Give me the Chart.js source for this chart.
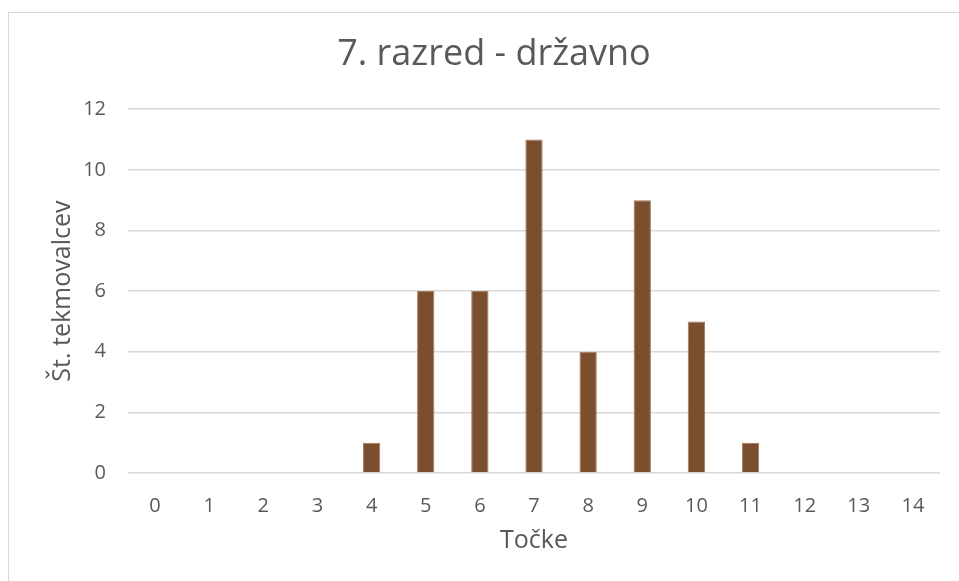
<!DOCTYPE html>
<html>
<head>
<meta charset="utf-8">
<script src="https://cdn.jsdelivr.net/npm/chart.js@4"></script>
<style>
  body { margin: 0; background: #fff; }
  #frame { position: absolute; left: 8px; top: 12px; width: 1000px; height: 700px; border: 1px solid #d9d9d9; box-sizing: border-box; }
  #wrap { position: absolute; left: 0; top: 0; width: 959px; height: 581px; }
</style>
</head>
<body>
<div id="frame"></div>
<div id="wrap"><canvas id="chart"></canvas></div>
<script>
// točke in število tekmovalcev
const tocke = ['0', '1', '2', '3', '4', '5', '6', '7', '8', '9', '10', '11', '12', '13', '14'];
const tekmovalci = [0, 0, 0, 0, 1, 6, 6, 11, 4, 9, 5, 1, 0, 0, 0];

const naslov = '7. razred - državno';
const osX = 'Točke';
const osY = 'Št. tekmovalcev';

const siva = '#595959';
const pisava = "'Open Sans', sans-serif";

const ctx = document.getElementById('chart').getContext('2d');
window.myChart = new Chart(ctx, {
    type: 'bar',
    data: {
        labels: tocke,
        datasets: [{
            data: tekmovalci,
            backgroundColor: '#7b4e2d',
            borderColor: '#a07a5e',
            borderWidth: { left: 1, right: 1, top: 1, bottom: 0 },
            barPercentage: 0.64,
            categoryPercentage: 0.5
        }]
    },
    options: {
        responsive: true,
        maintainAspectRatio: false,
        animation: false,
        layout: { padding: { left: 48, right: 19, top: 0, bottom: 25 } },
        plugins: {
            legend: { display: false },
            tooltip: { enabled: false },
            title: {
                display: true,
                text: naslov,
                color: siva,
                font: { family: pisava, size: 36, weight: 'normal' },
                padding: { top: 33, bottom: 33 }
            }
        },
        scales: {
            x: {
                grid: { display: false, drawTicks: false },
                border: { display: false },
                ticks: { color: siva, font: { family: pisava, size: 20 }, padding: 21 },
                title: { display: true, text: osX, color: siva, font: { family: pisava, size: 25 }, padding: { top: 0, bottom: 0 } },
                afterFit: (scale) => { scale.height = 83; }
            },
            y: {
                min: 0,
                max: 12,
                ticks: { stepSize: 2, color: siva, font: { family: pisava, size: 20 }, padding: 22 },
                grid: { color: '#d9d9d9', lineWidth: 1.5, drawTicks: false },
                border: { display: false },
                title: { display: true, text: osY, color: siva, font: { family: pisava, size: 25 }, padding: { top: 0, bottom: 0 } },
                afterFit: (scale) => { scale.width = 80; }
            }
        }
    }
});
</script>
</body>
</html>
